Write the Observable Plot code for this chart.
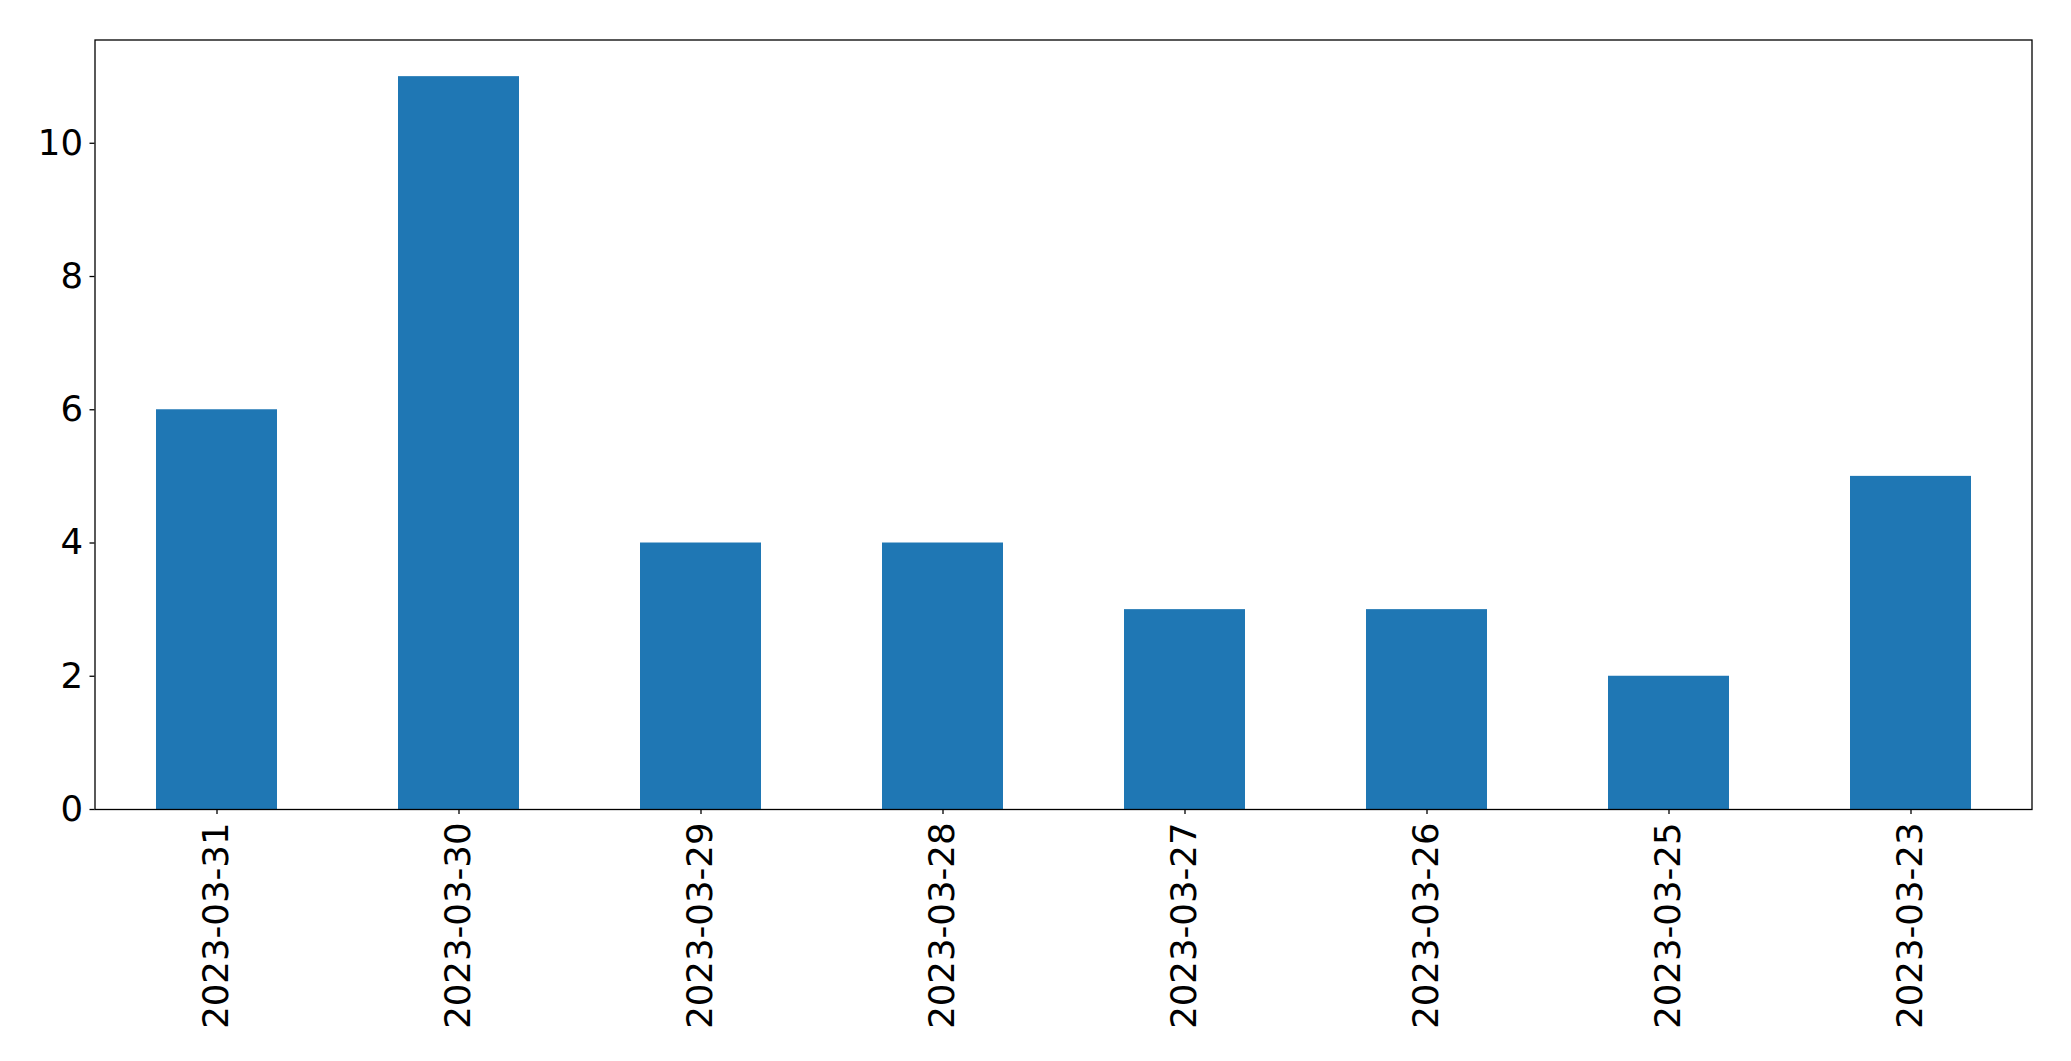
<!DOCTYPE html>
<html><head><meta charset="utf-8">
<script src="https://cdn.jsdelivr.net/npm/d3@7"></script>
<script src="https://cdn.jsdelivr.net/npm/@observablehq/plot@0.6"></script>
<style>html,body{margin:0;padding:0;background:#fff;}</style>
</head><body><div id="chart"></div>
<script>
const dates = ["2023-03-31","2023-03-30","2023-03-29","2023-03-28","2023-03-27","2023-03-26","2023-03-25","2023-03-23"];
const counts = [6, 11, 4, 4, 3, 3, 2, 5];
const yTicks = [0, 2, 4, 6, 8, 10];
const data = dates.map((d, i) => ({date: d, count: counts[i]}));

const chart = Plot.plot({
  width: 2071,
  height: 1061,
  marginLeft: 94.5,
  marginRight: 39.5,
  marginTop: 39.5,
  marginBottom: 252,
  style: {fontFamily: "DejaVu Sans", fontSize: "35.5px", color: "#000", background: "#fff"},
  x: {domain: dates, paddingInner: 0.5, paddingOuter: 0.25, label: null},
  y: {domain: [0, 11.55], label: null},
  marks: [
    Plot.barY(data, {x: "date", y: "count", fill: "#1f77b4"}),
    Plot.axisY({ticks: yTicks, tickSize: 5, tickPadding: 7, label: null, fontSize: 35.5, strokeWidth: 1.3}),
    Plot.axisX({tickSize: 5, tickPadding: 8, tickRotate: -90, label: null, fontSize: 35.5, strokeWidth: 1.3}),
    Plot.frame({stroke: "#000", strokeWidth: 1.3})
  ]
});
document.getElementById("chart").appendChild(chart);
</script>
</body></html>
